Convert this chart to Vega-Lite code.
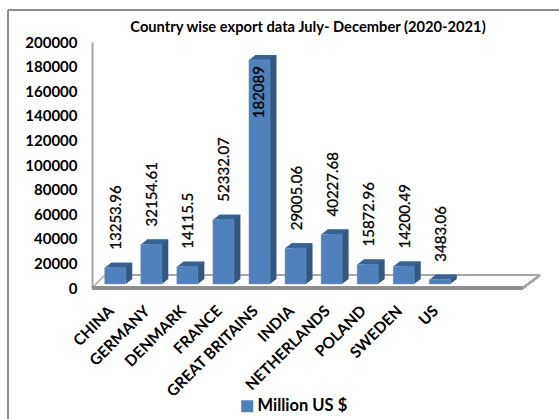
{"$schema":"https://vega.github.io/schema/vega-lite/v6.json","width":448,"height":246,"padding":{"left":92,"top":42,"right":19,"bottom":131},"autosize":"none","background":"white",
"config":{"view":{"stroke":null},"font":"Lato","axis":{"labelOverlap":false}},
"title":{"text":"Country wise export data July- December (2020-2021)","font":"Lato","fontWeight":"bold","fontSize":14.7,"color":"#000","anchor":"middle","dx":-8,"offset":-25},
"resolve":{"axis":{"y":"independent","x":"independent"}},
"data":{"values":[{"country":"CHINA","value":13253.96,"label":"13253.96"},{"country":"GERMANY","value":32154.61,"label":"32154.61"},{"country":"DENMARK","value":14115.5,"label":"14115.5"},{"country":"FRANCE","value":52332.07,"label":"52332.07"},{"country":"GREAT BRITAINS","value":182089,"label":"182089"},{"country":"INDIA","value":29005.06,"label":"29005.06"},{"country":"NETHERLANDS","value":40227.68,"label":"40227.68"},{"country":"POLAND","value":15872.96,"label":"15872.96"},{"country":"SWEDEN","value":14200.49,"label":"14200.49"},{"country":"US","value":3483.06,"label":"3483.06"}]},
"layer":[
{"mark":{"type":"rule","stroke":"#8c8c8c","strokeWidth":1.5},"encoding":{"x":{"value":-84},"x2":{"value":467},"y":{"value":-32}}},
{"mark":{"type":"rule","stroke":"#8c8c8c","strokeWidth":1.5},"encoding":{"x":{"value":-84},"y":{"value":-32},"y2":{"value":377}}},
{"mark":{"type":"rule","stroke":"#a6a6a6","strokeWidth":2},"encoding":{"x":{"value":13},"x2":{"value":448},"y":{"datum":10570,"type":"quantitative","axis":null}}},
{"mark":{"type":"rule","stroke":"#bfbfbf","strokeWidth":1.5},"encoding":{"x":{"value":0},"x2":{"value":13},"y":{"value":246},"y2":{"value":233}}},
{"mark":{"type":"rule","stroke":"#a6a6a6","strokeWidth":2},"encoding":{"x":{"value":431},"x2":{"value":448},"y":{"value":246},"y2":{"value":233}}},
{"mark":{"type":"rule","stroke":"#8c8c8c","strokeWidth":2.5},"encoding":{"x":{"value":0},"x2":{"value":431},"y":{"value":246}}},
{"mark":{"type":"bar","fill":"#34577f","xOffset":6.5,"x2Offset":6.5,"yOffset":-9,"y2Offset":-9},"encoding":{"x":{"field":"country","type":"nominal","sort":null,"scale":{"range":[5.5,365.5],"paddingInner":0.417,"paddingOuter":0.2},"axis":{"title":null,"labelAngle":-45,"labelAlign":"right","labelBaseline":"middle","labelFont":"Lato","labelFontWeight":"bold","labelFontSize":15.5,"labelColor":"#000","ticks":false,"domain":false,"labelPadding":20,"labelOffset":-4,"labelOverlap":false}},"y":{"field":"value","type":"quantitative","scale":{"domain":[0,200000]},"axis":{"title":null,"values":[0,20000,40000,60000,80000,100000,120000,140000,160000,180000,200000],"format":"d","labelOverlap":false,"labelSeparation":0,"labelFont":"Lato","labelFontWeight":"bold","labelFontSize":15,"labelColor":"#000","ticks":false,"grid":false,"domainColor":"#a6a6a6","domainWidth":2,"labelPadding":15}}}},
{"mark":{"type":"point","shape":"M-10.5 0L-4 -5L17 -5L10.5 0Z","size":4,"filled":true,"fill":"#3a6291","opacity":1,"stroke":null,"yOffset":-4},"encoding":{"x":{"field":"country","type":"nominal","sort":null,"axis":null},"y":{"field":"value","type":"quantitative","axis":null}}},
{"mark":{"type":"point","shape":"M10.5 0L17 -5L10.5 -5Z","size":4,"filled":true,"fill":"#34577f","opacity":1,"stroke":null,"yOffset":-4},"encoding":{"x":{"field":"country","type":"nominal","sort":null,"axis":null},"y":{"datum":0,"type":"quantitative","axis":null}}},
{"mark":{"type":"bar","yOffset":-4,"y2Offset":-4,"stroke":"#6f9ad0","strokeWidth":0.5},"encoding":{"x":{"field":"country","type":"nominal","sort":null,"axis":null},"y":{"field":"value","type":"quantitative","axis":null},"color":{"datum":"Million US $","type":"nominal","scale":{"range":["#4f81bd"]},"legend":{"orient":"none","legendX":147,"legendY":356,"title":null,"symbolType":"square","symbolSize":144,"symbolStrokeWidth":0,"labelOffset":2,"labelFont":"Lato","labelFontWeight":"bold","labelFontSize":16.5,"labelColor":"#000"}}}},
{"transform":[{"filter":"datum.value<100000"}],"mark":{"type":"text","angle":270,"font":"Lato","fontSize":15,"color":"#000","stroke":"#000","strokeWidth":0.3,"align":"left","baseline":"middle","dx":22,"dy":1},"encoding":{"x":{"field":"country","type":"nominal","sort":null,"axis":null},"y":{"field":"value","type":"quantitative","axis":null},"text":{"field":"label"}}},
{"transform":[{"filter":"datum.value>=100000"}],"mark":{"type":"text","angle":270,"font":"Lato","fontSize":15,"color":"#000","stroke":"#000","strokeWidth":0.3,"align":"right","baseline":"middle","dx":-2},"encoding":{"x":{"field":"country","type":"nominal","sort":null,"axis":null},"y":{"field":"value","type":"quantitative","axis":null},"text":{"field":"label"}}}
]}
